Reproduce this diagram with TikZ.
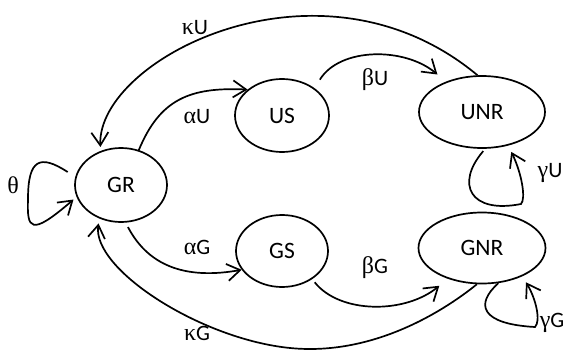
\documentclass[tikz,border=0pt]{standalone}
\usepackage{fontspec}
\setmainfont{Carlito}
\newfontfamily\grk{Liberation Serif}
\newcommand{\gl}[1]{{\grk\fontsize{24}{28}\selectfont #1}}
\usetikzlibrary{arrows.meta,shapes.geometric}
\begin{document}
\begin{tikzpicture}[x=1pt,y=1pt,
  state/.style={ellipse,draw,line width=1.7pt,inner sep=0pt,font=\fontsize{23.5}{28}\selectfont},
  lbl/.style={font=\fontsize{22}{26}\selectfont,inner sep=0pt},
  arr/.style={line width=1.7pt,-{Straight Barb[length=13pt,width=17pt,line width=1.7pt]}}]
\useasboundingbox (0,0) rectangle (565,349);
\node[state,minimum width=92pt,minimum height=74pt] (GR) at (121,164) {GR};
\node[state,minimum width=94pt,minimum height=73pt] (US) at (282,233.5) {US};
\node[state,minimum width=126pt,minimum height=72pt] (UNR) at (482,237) {UNR};
\node[state,minimum width=92pt,minimum height=72pt] (GS) at (282,98) {GS};
\node[state,minimum width=127pt,minimum height=71pt] (GNR) at (482,101) {GNR};
% connectors
\draw[arr,shorten >=4pt] (UNR.97) .. controls (320,405) and (97,290) .. (GR.121);
\draw[arr] (GR.63) .. controls (160,250) and (190,262) .. (US.143);
\draw[arr,shorten <=10pt,shorten >=11pt] (US.40) .. controls (340,302) and (405,302) .. (UNR.140);
\draw[arr,shorten <=5pt] (GR.-83) .. controls (150,80) and (190,70) .. (GS.205);
\draw[arr,shorten <=4pt,shorten >=11pt] (GS.-43) .. controls (340,35) and (405,35) .. (GNR.222);
\draw[arr,shorten >=5pt] (GNR.262) .. controls (440,35) and (370,-7) .. (290,1) .. controls (200,10) and (92,80) .. (GR.237);
\draw[arr,shorten <=9pt,shorten >=4pt] (GR.170) .. controls (40,195) and (28,190) .. (28,150) .. controls (27,120) and (30,112) .. (GR.195);
\draw[arr,shorten <=3pt,shorten >=7pt] (UNR.275) .. controls (455,165) and (470,135) .. (521,145) .. controls (526,150) and (522,175) .. (UNR.308);
\draw[arr,shorten >=7pt] (GNR.295) .. controls (475,45) and (480,25) .. (535,22) .. controls (541,28) and (536,50) .. (GNR.325);
% labels
\node[lbl] (kU) at (195,321) {\gl{κ}U};
\node[lbl] (aU) at (197,232) {\gl{α}U};
\node[lbl] (bU) at (375,269) {\gl{β}U};
\node[lbl] (gU) at (550,176) {\gl{γ}U};
\node[lbl] (th) at (13,164) {\gl{θ}};
\node[lbl] (aG) at (197,102) {\gl{α}G};
\node[lbl] (bG) at (375,81) {\gl{β}G};
\node[lbl] (gG) at (552,26) {\gl{γ}G};
\node[lbl] (kG) at (197,16) {\gl{κ}G};
\end{tikzpicture}
\end{document}
